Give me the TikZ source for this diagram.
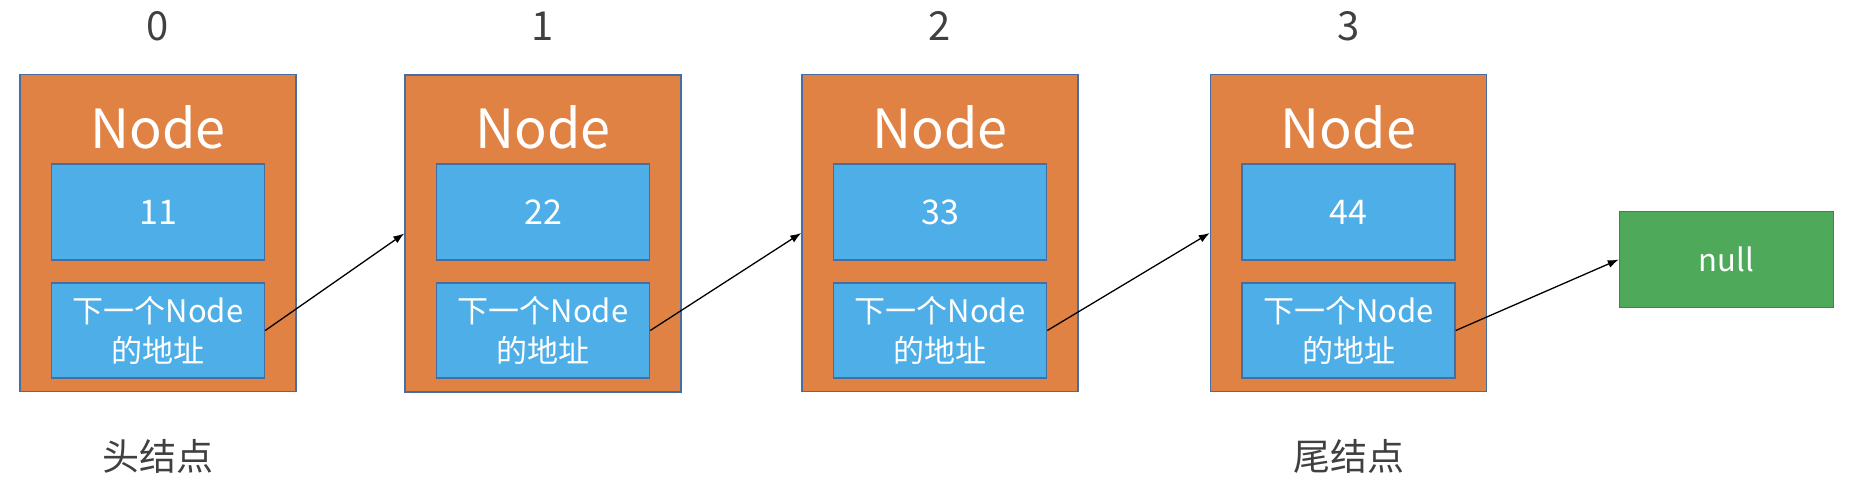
\documentclass[tikz,border=0pt]{standalone}
\usepackage{fontspec}
\setmainfont{Noto Sans CJK SC}
\usetikzlibrary{arrows.meta}
\definecolor{nodeorange}{RGB}{224,130,68}
\definecolor{fieldblue}{RGB}{78,174,232}
\definecolor{nullgreen}{RGB}{78,170,90}
\definecolor{edgeblue}{RGB}{70,110,160}
\definecolor{labelgray}{RGB}{64,64,64}
\tikzset{
  outerbox/.style={draw=edgeblue, line width=1.5pt, fill=nodeorange},
  fieldbox/.style={draw=edgeblue, line width=1.5pt, fill=fieldblue},
  nullbox/.style={draw=edgeblue, line width=1.5pt, fill=nullgreen},
  titletext/.style={text=white, font=\fontsize{54}{60}\selectfont},
  valtext/.style={text=white, font=\fontsize{34}{40}\selectfont},
  addrtext/.style={text=white, font=\fontsize{31}{40}\selectfont, align=center},
  idxtext/.style={text=labelgray, font=\fontsize{40}{46}\selectfont},
  roletext/.style={text=labelgray, font=\fontsize{37}{44}\selectfont},
  link/.style={-{Latex[length=11pt,width=8pt]}, line width=1.3pt, black},
}
\begin{document}
\begin{tikzpicture}[x=1pt,y=-1pt]
\useasboundingbox (0,0) rectangle (1860,488);
% node 0
\node[outerbox, minimum width=276pt, minimum height=317pt, inner sep=0pt] (n0) at (158,233) {};
\node[titletext] (t0) at (158,127) {Node};
\node[fieldbox, minimum width=213pt, minimum height=96pt, inner sep=0pt] (v0) at (158,212) {};
\node[valtext] at (v0) {11};
\node[fieldbox, minimum width=213pt, minimum height=95pt, inner sep=0pt] (a0) at (158,330.5) {};
\node[addrtext] at (a0) {下一个Node\\的地址};
\node[idxtext] (i0) at (158,26) {0};
\node[roletext] (r0) at (158,456) {头结点};
% node 1
\node[outerbox, minimum width=276pt, minimum height=317pt, inner sep=0pt] (n1) at (543,233.5) {};
\node[titletext] (t1) at (543,127) {Node};
\node[fieldbox, minimum width=213pt, minimum height=96pt, inner sep=0pt] (v1) at (543,212) {};
\node[valtext] at (v1) {22};
\node[fieldbox, minimum width=213pt, minimum height=95pt, inner sep=0pt] (a1) at (543,330.5) {};
\node[addrtext] at (a1) {下一个Node\\的地址};
\node[idxtext] (i1) at (543,26) {1};
% node 2
\node[outerbox, minimum width=276pt, minimum height=317pt, inner sep=0pt] (n2) at (940,233) {};
\node[titletext] (t2) at (940,127) {Node};
\node[fieldbox, minimum width=213pt, minimum height=96pt, inner sep=0pt] (v2) at (940,212) {};
\node[valtext] at (v2) {33};
\node[fieldbox, minimum width=213pt, minimum height=95pt, inner sep=0pt] (a2) at (940,330.5) {};
\node[addrtext] at (a2) {下一个Node\\的地址};
\node[idxtext] (i2) at (940,26) {2};
% node 3
\node[outerbox, minimum width=276pt, minimum height=317pt, inner sep=0pt] (n3) at (1348.5,233) {};
\node[titletext] (t3) at (1348.5,127) {Node};
\node[fieldbox, minimum width=213pt, minimum height=96pt, inner sep=0pt] (v3) at (1348.5,212) {};
\node[valtext] at (v3) {44};
\node[fieldbox, minimum width=213pt, minimum height=95pt, inner sep=0pt] (a3) at (1348.5,330.5) {};
\node[addrtext] at (a3) {下一个Node\\的地址};
\node[idxtext] (i3) at (1348.5,26) {3};
\node[roletext] (r3) at (1348.5,456) {尾结点};
% null
\node[nullbox, minimum width=214pt, minimum height=96pt, inner sep=0pt] (nl) at (1726.5,259.5) {};
\node[addrtext] at (nl) {null};
% links
\draw[link] (a0.east) -- (n1.west);
\draw[link] (a1.east) -- (n2.west);
\draw[link] (a2.east) -- (n3.west);
\draw[link] (a3.east) -- (nl.west);
\end{tikzpicture}
\end{document}
